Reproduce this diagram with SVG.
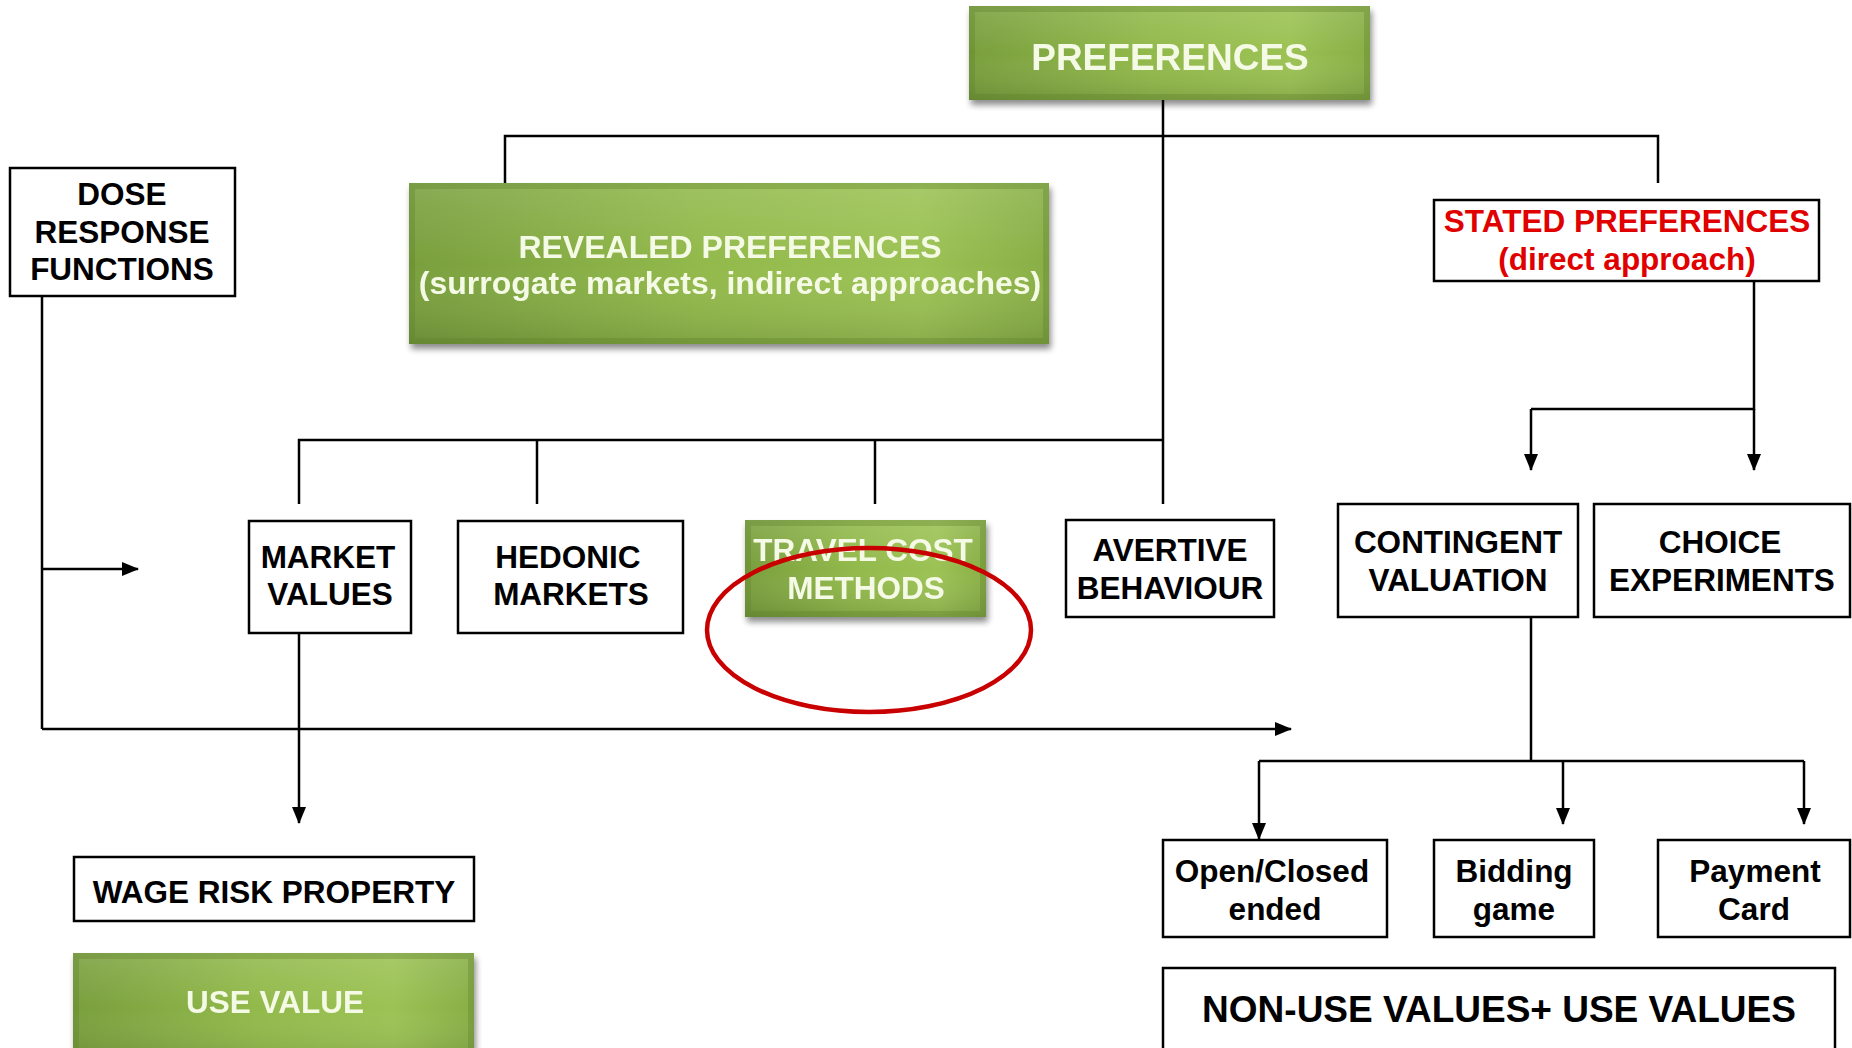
<svg xmlns="http://www.w3.org/2000/svg" width="1852" height="1048" viewBox="0 0 1852 1048">
<style>
.box{fill:#fff;stroke:#000;stroke-width:2.5}
.t{font-family:"Liberation Sans",Arial,sans-serif;font-weight:bold;font-size:31.5px;fill:#000;text-anchor:middle}
.w{fill:#f5fae6}
.r{fill:#e00000}
.c{fill:none;stroke:#000;stroke-width:2.5}
.a{fill:none;stroke:#000;stroke-width:2.5;marker-end:url(#ah)}
.bev{fill:none;stroke:#5f822c;stroke-opacity:0.35;stroke-width:6}
</style>
<defs>
<linearGradient id="g" x1="0" y1="0" x2="1" y2="0">
<stop offset="0" stop-color="#799f3d"/>
<stop offset="0.45" stop-color="#92b94b"/>
<stop offset="0.8" stop-color="#9cc254"/>
<stop offset="1" stop-color="#88ae46"/>
</linearGradient>
<linearGradient id="gv" x1="0" y1="0" x2="0" y2="1">
<stop offset="0" stop-color="#fff" stop-opacity="0.12"/>
<stop offset="0.5" stop-color="#fff" stop-opacity="0"/>
<stop offset="1" stop-color="#000" stop-opacity="0.12"/>
</linearGradient>
<filter id="sh" x="-5%" y="-10%" width="115%" height="140%">
<feGaussianBlur in="SourceAlpha" stdDeviation="3"/>
<feOffset dx="2" dy="5"/>
<feComponentTransfer><feFuncA type="linear" slope="0.45"/></feComponentTransfer>
<feMerge><feMergeNode/><feMergeNode in="SourceGraphic"/></feMerge>
</filter>
<marker id="ah" viewBox="0 0 17 14" refX="16" refY="7" markerWidth="17" markerHeight="14" markerUnits="userSpaceOnUse" orient="auto">
<path d="M0,0 L17,7 L0,14 Z" fill="#000"/>
</marker>
</defs>

<g id="connectors">
<path class="c" d="M1163,100 V504"/>
<path class="c" d="M505,183 V136 H1658 V183"/>
<path class="c" d="M299,504 V440 H1163"/>
<path class="c" d="M537,440 V504"/>
<path class="c" d="M875,440 V504"/>
<path class="c" d="M1754,281 V409 H1531"/>
<path class="a" d="M1531,409 V470"/>
<path class="a" d="M1754,409 V470"/>
<path class="c" d="M1531,617 V761"/>
<path class="c" d="M1259,761 H1804"/>
<path class="a" d="M1259,761 V839"/>
<path class="a" d="M1563,761 V824"/>
<path class="a" d="M1804,761 V824"/>
<path class="c" d="M42,296 V729"/>
<path class="a" d="M42,729 H1291"/>
<path class="a" d="M42,569 H138"/>
<path class="a" d="M299,633 V823"/>
</g>

<g id="preferences" filter="url(#sh)">
<rect x="969" y="6" width="401" height="94" fill="url(#g)"/>
<rect x="969" y="6" width="401" height="94" fill="url(#gv)"/>
<rect class="bev" x="972" y="9" width="395" height="88"/>
<text class="t w" x="1170" y="70" style="font-size:37px">PREFERENCES</text>
</g>

<g id="revealed" filter="url(#sh)">
<rect x="409" y="183" width="640" height="161" fill="url(#g)"/>
<rect x="409" y="183" width="640" height="161" fill="url(#gv)"/>
<rect class="bev" x="412" y="186" width="634" height="155"/>
<text class="t w" x="730" y="258" style="font-size:32px">REVEALED PREFERENCES</text>
<text class="t w" x="730" y="294" style="font-size:32px">(surrogate markets, indirect approaches)</text>
</g>

<g id="dose">
<rect class="box" x="10" y="168" width="225" height="128"/>
<text class="t" x="122" y="205">DOSE</text>
<text class="t" x="122" y="243">RESPONSE</text>
<text class="t" x="122" y="280">FUNCTIONS</text>
</g>

<g id="stated">
<rect class="box" x="1434" y="200" width="385" height="81"/>
<text class="t r" x="1627" y="232">STATED PREFERENCES</text>
<text class="t r" x="1627" y="270">(direct approach)</text>
</g>

<g id="market">
<rect class="box" x="249" y="521" width="162" height="112"/>
<text class="t" x="328" y="568">MARKET</text>
<text class="t" x="330" y="605">VALUES</text>
</g>

<g id="hedonic">
<rect class="box" x="458" y="521" width="225" height="112"/>
<text class="t" x="568" y="568">HEDONIC</text>
<text class="t" x="571" y="605">MARKETS</text>
</g>

<g id="travel" filter="url(#sh)">
<rect x="745" y="520" width="241" height="97" fill="url(#g)"/>
<rect x="745" y="520" width="241" height="97" fill="url(#gv)"/>
<rect class="bev" x="748" y="523" width="235" height="91"/>
<text class="t w" x="863" y="561">TRAVEL COST</text>
<text class="t w" x="866" y="599">METHODS</text>
</g>

<g id="avertive">
<rect class="box" x="1066" y="520" width="208" height="97"/>
<text class="t" x="1170" y="561">AVERTIVE</text>
<text class="t" x="1170" y="599">BEHAVIOUR</text>
</g>

<g id="contingent">
<rect class="box" x="1338" y="504" width="240" height="113"/>
<text class="t" x="1458" y="553">CONTINGENT</text>
<text class="t" x="1458" y="591">VALUATION</text>
</g>

<g id="choice">
<rect class="box" x="1594" y="504" width="256" height="113"/>
<text class="t" x="1720" y="553">CHOICE</text>
<text class="t" x="1722" y="591">EXPERIMENTS</text>
</g>

<g id="openclosed">
<rect class="box" x="1163" y="840" width="224" height="97"/>
<text class="t" x="1272" y="882">Open/Closed</text>
<text class="t" x="1275" y="920">ended</text>
</g>

<g id="bidding">
<rect class="box" x="1434" y="840" width="160" height="97"/>
<text class="t" x="1514" y="882">Bidding</text>
<text class="t" x="1514" y="920">game</text>
</g>

<g id="payment">
<rect class="box" x="1658" y="840" width="192" height="97"/>
<text class="t" x="1755" y="882">Payment</text>
<text class="t" x="1754" y="920">Card</text>
</g>

<g id="nonuse">
<rect class="box" x="1163" y="968" width="672" height="110"/>
<text class="t" x="1499" y="1022" style="font-size:37px">NON-USE VALUES+ USE VALUES</text>
</g>

<g id="wage">
<rect class="box" x="74" y="857" width="400" height="64"/>
<text class="t" x="274" y="903">WAGE RISK PROPERTY</text>
</g>

<g id="usevalue" filter="url(#sh)">
<rect x="73" y="953" width="401" height="110" fill="url(#g)"/>
<rect x="73" y="953" width="401" height="110" fill="url(#gv)"/>
<rect class="bev" x="76" y="956" width="395" height="104"/>
<text class="t w" x="275" y="1013">USE VALUE</text>
</g>

<g id="highlight">
<ellipse cx="869" cy="630" rx="162" ry="82" fill="none" stroke="#c80000" stroke-width="4.5"/>
</g>
</svg>
